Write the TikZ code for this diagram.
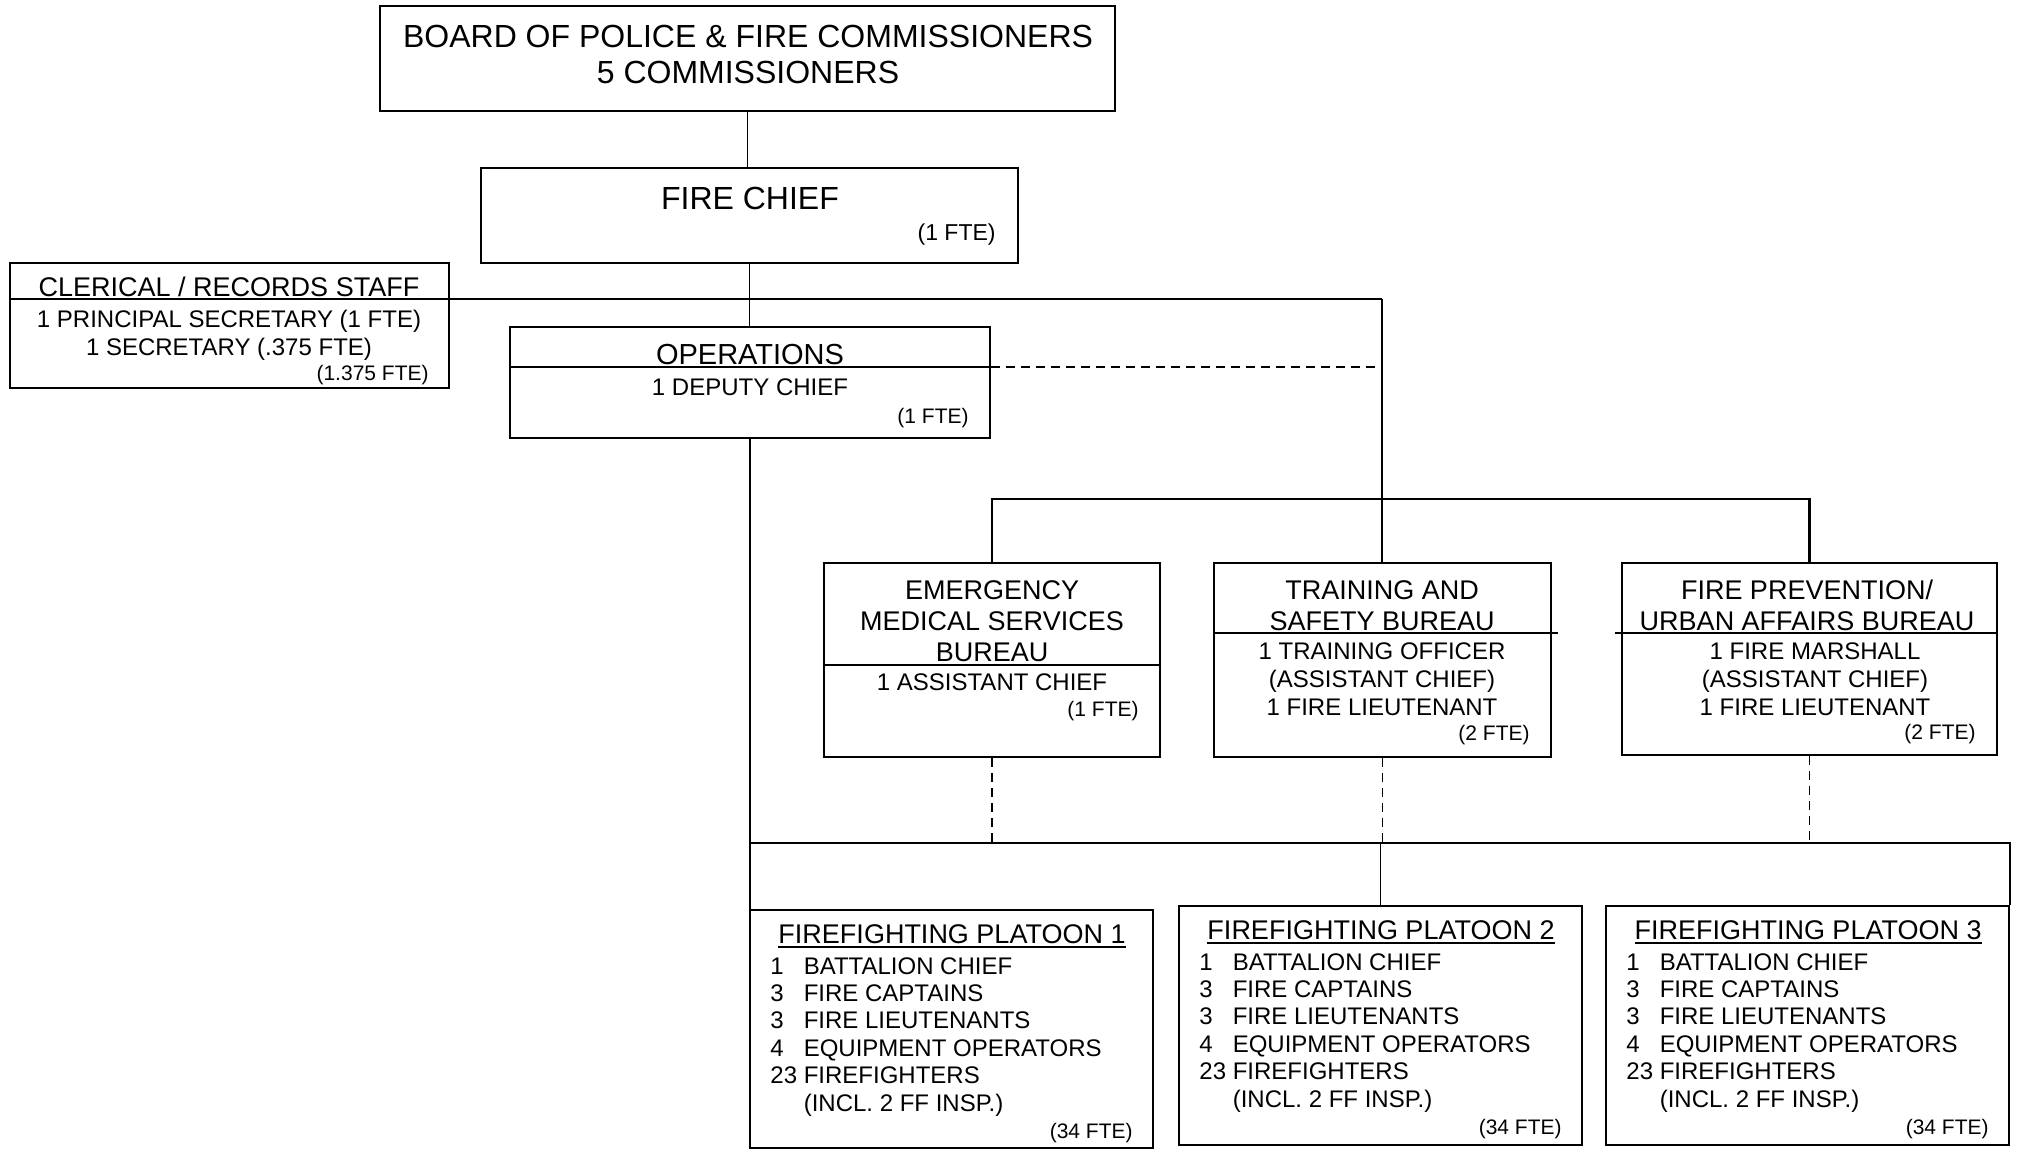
\documentclass[tikz,border=0pt]{standalone}
\usepackage{fontspec}
\setmainfont{Liberation Sans}
\usetikzlibrary{fit}

\newcommand{\ulthick}[1]{\setbox0=\hbox{#1}\rlap{\rule[-2.2pt]{\wd0}{0.9pt}}\box0}

\begin{document}
\begin{tikzpicture}[x=0.5pt,y=-0.5pt,
      box/.style={draw,line width=1.1pt,inner sep=0pt},
      link/.style={line width=0.8pt},
      bus/.style={line width=1.1pt},
      dotlink/.style={line width=0.8pt,dash pattern=on 4.5pt off 3pt},
      big/.style={font=\fontsize{16}{18}\selectfont,align=center,inner sep=0pt,anchor=base},
      head/.style={font=\fontsize{13.5}{15.5}\selectfont,align=center,inner sep=0pt,anchor=base},
      body/.style={font=\fontsize{12}{14}\selectfont,align=center,inner sep=0pt,anchor=base},
      fte/.style={font=\fontsize{10.5}{12}\selectfont,inner sep=0pt,anchor=base east}
      ]
      \useasboundingbox (0,0) rectangle (2021,1149);

      % top of the chart (base of a text = its last line)
      \node[box,fit={(380,6) (1115,111)}] (board) {};
      \node[big] (board-t) at (748,84) {BOARD OF POLICE \& FIRE COMMISSIONERS\\5 COMMISSIONERS};

      \node[box,fit={(481,168) (1018,263)}] (chief) {};
      \node[big] (chief-t) at (750,210) {FIRE CHIEF};
      \node[fte,font=\fontsize{11.5}{13}\selectfont] (chief-f) at (996,241) {(1 FTE)};

      \node[box,fit={(10,263) (449,388)}] (clerical) {};
      \node[head] (clerical-t) at (229,297) {CLERICAL / RECORDS STAFF};
      \node[body] (clerical-b) at (229,356) {1 PRINCIPAL SECRETARY (1 FTE)\\1 SECRETARY (.375 FTE)};
      \node[fte] (clerical-f) at (429,381) {(1.375 FTE)};

      \node[box,fit={(510,327) (990,438)}] (ops) {};
      \node[head,font=\fontsize{14.5}{16}\selectfont] (ops-t) at (750,365) {OPERATIONS};
      \node[body] (ops-b) at (750,396) {1 DEPUTY CHIEF};
      \node[fte] (ops-f) at (969,423) {(1 FTE)};

      % bureaus
      \node[box,fit={(824,563) (1160,757)}] (ems) {};
      \node[head] (ems-t) at (992,661) {EMERGENCY\\MEDICAL SERVICES\\BUREAU};
      \node[body] (ems-b) at (992,690) {1 ASSISTANT CHIEF};
      \node[fte] (ems-f) at (1139,716) {(1 FTE)};

      \node[box,fit={(1214,563) (1551,757)}] (train) {};
      \node[head] (train-t) at (1382,630) {TRAINING AND\\SAFETY BUREAU};
      \node[body] (train-b) at (1382,715) {1 TRAINING OFFICER\\(ASSISTANT CHIEF)\\1 FIRE LIEUTENANT};
      \node[fte] (train-f) at (1530,740) {(2 FTE)};

      \node[box,fit={(1622,563) (1997,755)}] (prev) {};
      \node[head] (prev-t) at (1807,630) {FIRE PREVENTION/\\URBAN AFFAIRS BUREAU};
      \node[body] (prev-b) at (1815,715) {1 FIRE MARSHALL\\(ASSISTANT CHIEF)\\1 FIRE LIEUTENANT};
      \node[fte] (prev-f) at (1976,739) {(2 FTE)};

      % dividers
      \draw[box] (ops.west |- 0,367) -- (ops.east |- 0,367);
      \draw[box] (ems.west |- 0,665) -- (ems.east |- 0,665);
      \draw[box] (train.west |- 0,633) -- ([xshift=3]train.east |- 0,633);
      \draw[box] ([xshift=-3]prev.west |- 0,633) -- (prev.east |- 0,633);

      % platoons
      \foreach \n/\x/\t/\b in {1/750/910/1148, 2/1179/906/1145, 3/1606/906/1145} {
        \node[box,fit={(\x,\t) (\x+403,\b)}] (p\n) {};
        \node[head] (p\n-t) at (\x+202,\t+33.5) {\ulthick{FIREFIGHTING PLATOON \n}};
        \node[body,anchor=base west,font=\fontsize{12}{13.7}\selectfont] (p\n-b) at (\x+20,\t+64) {%
          \begin{tabular}[t]{@{}l@{ }l@{}}
            1 & BATTALION CHIEF\\
            3 & FIRE CAPTAINS\\
            3 & FIRE LIEUTENANTS\\
            4 & EQUIPMENT OPERATORS\\
            23 & FIREFIGHTERS\\
               & (INCL. 2 FF INSP.)
          \end{tabular}};
        \node[fte] (p\n-f) at (\x+383,\t+228) {(34 FTE)};
      }

      % connectors
      \coordinate (split) at (1382,299);
      \coordinate (hub) at (1382,499);
      \coordinate (bus) at (750,843);
      \draw[link] (board.south) -- (board.south |- chief.north);
      \draw[link] (chief.south) -- (chief.south |- ops.north);
      \draw[bus] (clerical.west |- split) -- (split);
      \draw[link] (split) -- (split |- train.north);
      \draw[dotlink] (ops.east |- 0,367) -- (split |- 0,367);
      \draw[bus] (ems.north) |- (hub) -| (prev.north);
      \foreach \u in {ems,train,prev}
        \draw[dotlink] (\u.south) -- (\u.south |- bus);
      \draw[link] (ops.south) -- (ops.south |- p1.south);
      \draw[bus] (bus) -| (p3.north east);
      \draw[link] (bus -| p2.north) -- (p2.north);
    \end{tikzpicture}
\end{document}
